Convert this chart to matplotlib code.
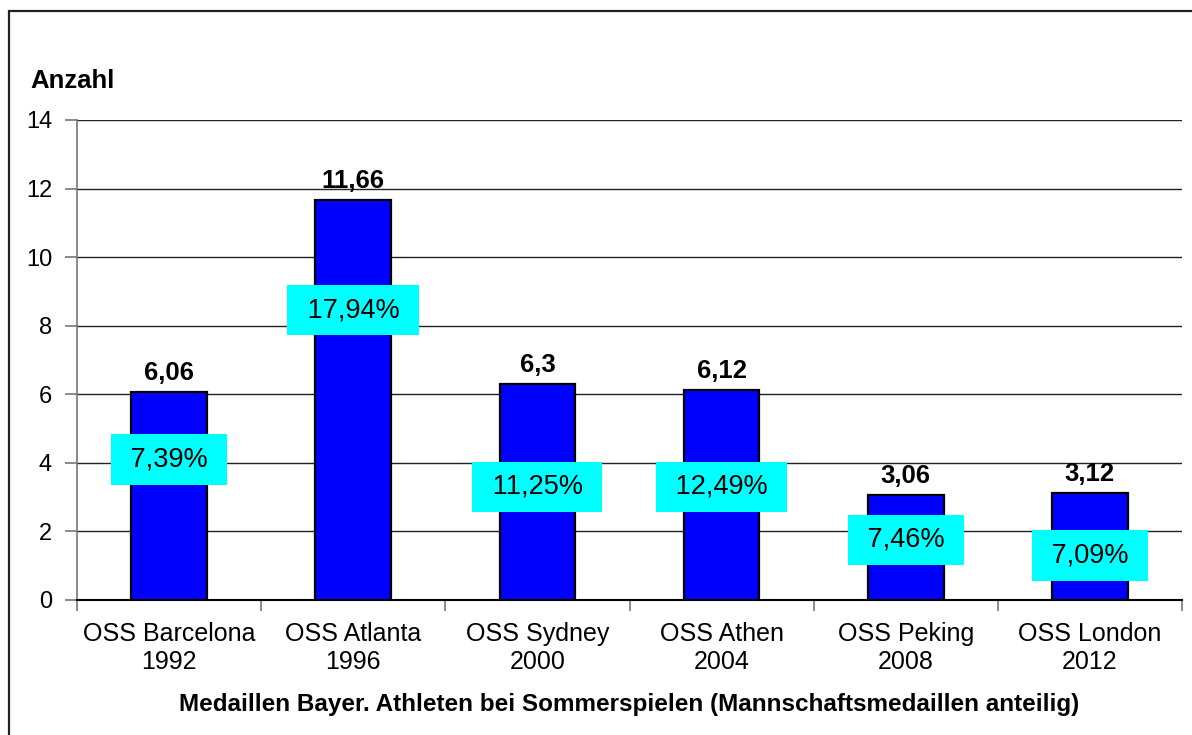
import matplotlib.pyplot as plt
from matplotlib.patches import Rectangle

plt.rcParams['font.family'] = ['Liberation Sans', 'DejaVu Sans']

# data
games = ["OSS Barcelona\n1992", "OSS Atlanta\n1996", "OSS Sydney\n2000",
         "OSS Athen\n2004", "OSS Peking\n2008", "OSS London\n2012"]
medals = [6.06, 11.66, 6.3, 6.12, 3.06, 3.12]
value_labels = ["6,06", "11,66", "6,3", "6,12", "3,06", "3,12"]
share_labels = ["7,39%", "17,94%", "11,25%", "12,49%", "7,46%", "7,09%"]
# where the cyan share labels sit (in data units)
share_label_y = [4.1, 8.45, 3.3, 3.3, 1.75, 1.3]

fig = plt.figure(figsize=(11.92, 7.35), dpi=100)
ax = fig.add_axes([77 / 1192, 1 - 600 / 735, 1105 / 1192, 480 / 735])

# outer chart frame (runs off the right and bottom edge)
fig.patches.append(Rectangle((8.5 / 1192, -0.2), 2.0, 1 - 11 / 735 + 0.2,
                             transform=fig.transFigure, fill=False,
                             edgecolor="#222222", lw=1.6))

x = list(range(len(games)))
ax.bar(x, medals, width=0.41, color="#0000FF", edgecolor="black",
       linewidth=1.6, zorder=3)

for xi, v, lab in zip(x, medals, value_labels):
    ax.annotate(lab, (xi, v), xytext=(0, 5), textcoords="offset points",
                ha="center", va="bottom", fontsize=18.5, fontweight="bold",
                zorder=5)

for xi, yi, lab in zip(x, share_label_y, share_labels):
    ax.text(xi, yi, " " + lab + " ", ha="center", va="center", fontsize=19.5,
            zorder=6,
            bbox=dict(boxstyle="square,pad=0.45", facecolor="#00FFFF",
                      edgecolor="none"))

ax.set_xlim(-0.5, len(games) - 0.5)
ax.set_ylim(0, 14)
ax.set_yticks(range(0, 15, 2))
ax.yaxis.grid(True, color="#222222", linewidth=1)
ax.set_axisbelow(True)

ax.set_xticks([i - 0.5 for i in range(len(games) + 1)], minor=False)
ax.set_xticklabels([])
ax.set_xticks(x, minor=True)
ax.set_xticklabels(games, minor=True, fontsize=18, linespacing=1.2)
ax.tick_params(axis="x", which="minor", length=0, pad=16)
ax.tick_params(axis="x", which="major", length=8, color="#777777", width=1.2)
ax.tick_params(axis="y", length=9, color="#777777", width=1.2, labelsize=17,
               pad=9)

for s in ["top", "right"]:
    ax.spines[s].set_visible(False)
ax.spines["left"].set_color("#777777")
ax.spines["left"].set_linewidth(1.2)
ax.spines["bottom"].set_color("black")
ax.spines["bottom"].set_linewidth(1.5)

ax.set_xlabel("Medaillen Bayer. Athleten bei Sommerspielen (Mannschaftsmedaillen anteilig)",
              fontsize=17.5, fontweight="bold", labelpad=14)
fig.text(30 / 1192, 1 - 81 / 735, "Anzahl", fontsize=18.5, fontweight="bold",
         ha="left", va="center")

plt.savefig("out.png", dpi=100)
